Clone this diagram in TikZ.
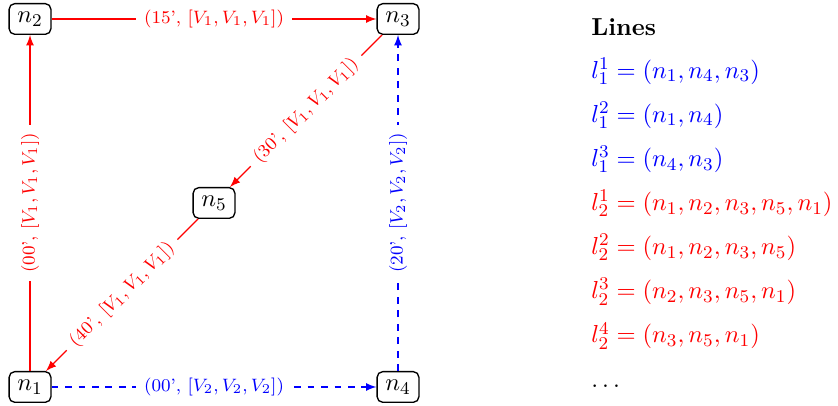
\documentclass[tikz,11pt,border=0pt]{standalone}
\begin{document}
\begin{tikzpicture}[x=1.152cm,y=1.152cm,
  station/.style={draw,rounded corners=2.5pt,semithick,fill=white},
  redline/.style={red,semithick,-latex},
  blueline/.style={blue,semithick,dashed,-latex},
  lbl/.style={font=\scriptsize,fill=white,sloped,midway},
  entry/.style={anchor=base west,inner sep=0pt}]
\useasboundingbox (-0.408,-0.245) rectangle (10.978,5.258);
% stations
\node[station] (n1) at (0,0) {$n_1$};
\node[station] (n2) at (0,5) {$n_2$};
\node[station] (n3) at (5,5) {$n_3$};
\node[station] (n4) at (5,0) {$n_4$};
\node[station] (n5) at (2.5,2.5) {$n_5$};
% line 2 (red)
\draw[redline] (n1) -- (n2) node[lbl] {(00', $[V_1,V_1,V_1]$)};
\draw[redline] (n2) -- (n3) node[lbl] {(15', $[V_1,V_1,V_1]$)};
\draw[redline] (n3) -- (n5) node[lbl] {(30', $[V_1,V_1,V_1]$)};
\draw[redline] (n5) -- (n1) node[lbl] {(40', $[V_1,V_1,V_1]$)};
% line 1 (blue)
\draw[blueline] (n1) -- (n4) node[lbl] {(00', $[V_2,V_2,V_2]$)};
\draw[blueline] (n4) -- (n3) node[lbl] {(20', $[V_2,V_2,V_2]$)};
% legend
\node[entry] (title) at (7.62,4.77) {\textbf{Lines}};
\node[entry,blue] (l11) at (7.62,4.198) {$l_1^1=(n_1,n_4,n_3)$};
\node[entry,blue] (l12) at (7.62,3.598) {$l_1^2=(n_1,n_4)$};
\node[entry,blue] (l13) at (7.62,2.998) {$l_1^3=(n_4,n_3)$};
\node[entry,red] (l21) at (7.62,2.398) {$l_2^1=(n_1,n_2,n_3,n_5,n_1)$};
\node[entry,red] (l22) at (7.62,1.798) {$l_2^2=(n_1,n_2,n_3,n_5)$};
\node[entry,red] (l23) at (7.62,1.198) {$l_2^3=(n_2,n_3,n_5,n_1)$};
\node[entry,red] (l24) at (7.62,0.598) {$l_2^4=(n_3,n_5,n_1)$};
\node[entry] (more) at (7.62,-0.01) {$\dots$};
\end{tikzpicture}
\end{document}
